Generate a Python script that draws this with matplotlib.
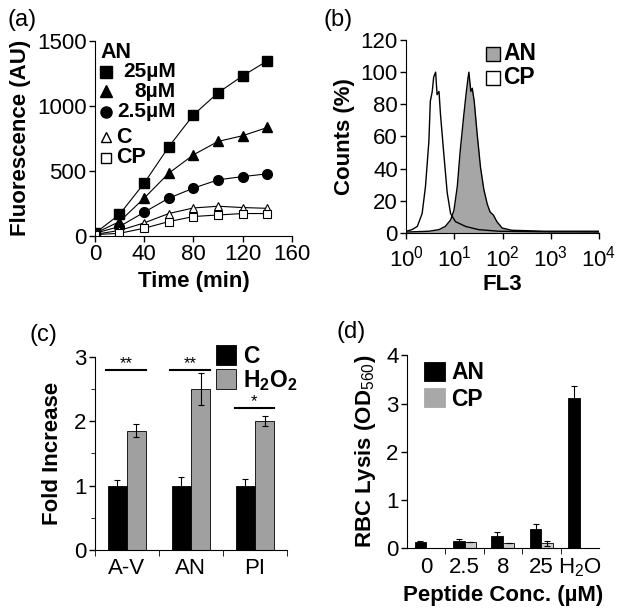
import numpy as np
import matplotlib.pyplot as plt

plt.rcParams['font.family'] = ['Liberation Sans', 'DejaVu Sans']
plt.rcParams['font.size'] = 16
plt.rcParams['mathtext.fontset'] = 'custom'
plt.rcParams['mathtext.rm'] = 'Liberation Sans'
plt.rcParams['mathtext.bf'] = 'Liberation Sans:bold'

# (a) fluorescence vs time
time_min = [0, 20, 40, 60, 80, 100, 120, 140]
an_25 = [20, 165, 405, 685, 930, 1100, 1230, 1345]
an_8 = [20, 110, 290, 482, 623, 726, 770, 833]
an_2_5 = [20, 72, 182, 290, 367, 431, 456, 477]
ctrl_c = [12, 42, 100, 172, 215, 228, 218, 212]
ctrl_cp = [10, 20, 59, 110, 149, 161, 172, 172]

# (b) FL3 histograms (log10 of FL3, counts %)
cp_logx = [0.0, 0.12, 0.23, 0.33, 0.40, 0.47, 0.50, 0.54, 0.57, 0.61, 0.64, 0.68,
           0.71, 0.78, 0.85, 0.92, 1.02, 1.23, 1.50, 1.92, 2.5, 3.0, 3.5, 4.0]
cp_counts = [1, 2, 4, 12, 29, 57, 82, 88, 97, 100, 86, 88,
             74, 49, 25, 12, 7, 4, 2, 1, 0.8, 0.6, 0.6, 0.5]
an_logx = [0.0, 0.47, 0.68, 0.81, 0.92, 0.99, 1.06, 1.12, 1.19, 1.24, 1.28, 1.30,
           1.34, 1.37, 1.41, 1.47, 1.54, 1.61, 1.68, 1.74, 1.81, 1.88, 1.99, 2.19,
           2.88, 3.5, 4.0]
an_counts = [0.5, 1, 2, 4, 8, 14, 29, 51, 72, 86, 96, 100,
             88, 90, 82, 62, 41, 27, 18, 13, 11, 7, 3, 1.6,
             1, 1, 1]

# (c) fold increase
c_groups = ['A-V', 'AN', 'PI']
c_ctrl = [1.0, 1.0, 1.0]
c_ctrl_err = [0.08, 0.13, 0.10]
c_h2o2 = [1.85, 2.5, 2.0]
c_h2o2_err = [0.10, 0.25, 0.08]
c_sig = ['**', '**', '*']
c_sig_y = [2.80, 2.80, 2.21]

# (d) RBC lysis
d_groups = ['0', '2.5', '8', '25', 'H$_2$O']
d_an = [0.12, 0.16, 0.25, 0.39, 3.12]
d_an_err = [0.03, 0.03, 0.08, 0.11, 0.24]
d_cp = [0, 0.13, 0.11, 0.10, 0]
d_cp_err = [0, 0, 0, 0.045, 0]

fig = plt.figure(figsize=(6.24, 6.16), dpi=100)
ax_a = fig.add_axes([0.152, 0.617, 0.316, 0.317])
ax_b = fig.add_axes([0.651, 0.622, 0.309, 0.313])
ax_c = fig.add_axes([0.152, 0.107, 0.308, 0.314])
ax_d = fig.add_axes([0.652, 0.110, 0.308, 0.313])

for ax in (ax_a, ax_b, ax_c, ax_d):
    ax.spines['top'].set_visible(False)
    ax.spines['right'].set_visible(False)
    ax.tick_params(direction='out', length=4, width=1, labelsize=16, pad=2)

# ---- panel (a)
ax_a.plot(time_min, an_25, color='k', lw=0.8, marker='s', ms=6.5, mfc='k')
ax_a.plot(time_min, an_8, color='k', lw=0.8, marker='^', ms=7, mfc='k')
ax_a.plot(time_min, an_2_5, color='k', lw=0.8, marker='o', ms=7, mfc='k')
ax_a.plot(time_min, ctrl_c, color='k', lw=0.8, marker='^', ms=5.5, mfc='white', mew=0.8)
ax_a.plot(time_min, ctrl_cp, color='k', lw=0.8, marker='s', ms=5.5, mfc='white', mew=0.8)
ax_a.set_xlim(0, 160)
ax_a.set_ylim(0, 1500)
ax_a.set_xticks([0, 40, 80, 120, 160])
ax_a.set_yticks([0, 500, 1000, 1500])
ax_a.set_xlabel('Time (min)', fontweight='bold', fontsize=16)
ax_a.set_ylabel('Fluorescence (AU)', fontweight='bold', fontsize=16, labelpad=4)

# key for (a)
ta = ax_a.transAxes
ax_a.text(0.03, 0.94, 'AN', transform=ta, fontweight='bold', fontsize=15.5, va='center')
key_rows = [(0.84, 's', '25µM'), (0.74, '^', '8µM'), (0.635, 'o', '2.5µM')]
for yy, mk, lab in key_rows:
    ax_a.plot([0.055], [yy], transform=ta, marker=mk, ms=8, mfc='k', mec='k', clip_on=False)
    ax_a.text(0.41, yy, lab, transform=ta, fontweight='bold', fontsize=15, va='center', ha='right')
for yy, mk, lab in [(0.505, '^', 'C'), (0.40, 's', 'CP')]:
    ax_a.plot([0.055], [yy], transform=ta, marker=mk, ms=6.5, mfc='white', mec='k', mew=1, clip_on=False)
    ax_a.text(0.11, yy, lab, transform=ta, fontweight='bold', fontsize=15.5, va='center')

# ---- panel (b)
an_x = np.power(10.0, an_logx)
cp_x = np.power(10.0, cp_logx)
ax_b.fill_between(an_x, an_counts, 0, color='#a6a6a6', lw=0)
ax_b.plot(an_x, an_counts, color='k', lw=1)
ax_b.plot(cp_x, cp_counts, color='k', lw=1)
ax_b.set_xscale('log')
ax_b.set_xlim(1, 1e4)
ax_b.set_ylim(0, 120)
ax_b.set_yticks(range(0, 121, 20))
ax_b.set_xticks([1, 10, 100, 1000, 10000])
ax_b.set_xticklabels(['10$^0$', '10$^1$', '10$^2$', '10$^3$', '10$^4$'])
ax_b.minorticks_off()
ax_b.tick_params(axis='x', pad=5)
ax_b.set_xlabel('FL3', fontweight='bold', fontsize=16, labelpad=2)
ax_b.set_ylabel('Counts (%)', fontweight='bold', fontsize=16, labelpad=4)
tb = ax_b.transAxes
ax_b.plot([0.45], [0.93], transform=tb, marker='s', ms=10, mfc='#a6a6a6', mec='k', clip_on=False)
ax_b.text(0.505, 0.93, 'AN', transform=tb, fontweight='bold', fontsize=16.5, va='center')
ax_b.plot([0.45], [0.805], transform=tb, marker='s', ms=10, mfc='white', mec='k', clip_on=False)
ax_b.text(0.505, 0.805, 'CP', transform=tb, fontweight='bold', fontsize=16.5, va='center')

# ---- panel (c)
xc = np.arange(len(c_groups))
w = 0.3
ax_c.bar(xc - w / 2, c_ctrl, w, color='black', edgecolor='black', lw=0.6,
         yerr=c_ctrl_err, error_kw=dict(lw=0.8, capsize=2, capthick=0.8), label='C')
ax_c.bar(xc + w / 2, c_h2o2, w, color='#a0a0a0', edgecolor='black', lw=0.6,
         yerr=c_h2o2_err, error_kw=dict(lw=0.8, capsize=2, capthick=0.8),
         label='H$_\\mathbf{2}$O$_\\mathbf{2}$')
for xi, s, sy in zip(xc, c_sig, c_sig_y):
    ax_c.plot([xi - 0.32, xi + 0.3], [sy, sy], color='k', lw=1.5)
    ax_c.text(xi - 0.01, sy - 0.02, s, ha='center', va='bottom', fontsize=12)
ax_c.set_xlim(-0.5, 2.5)
ax_c.set_ylim(0, 3)
ax_c.set_yticks([0, 1, 2, 3])
ax_c.set_yticks([0.5, 1.5, 2.5], minor=True)
ax_c.tick_params(axis='y', which='minor', length=3, direction='out')
ax_c.set_xticks(xc)
ax_c.set_xticklabels(c_groups, fontsize=16)
ax_c.tick_params(axis='x', which='major', length=0, pad=6)
ax_c.set_xticks([-0.5, 0.5, 1.5, 2.5], minor=True)
ax_c.tick_params(axis='x', which='minor', length=4, direction='out')
ax_c.set_ylabel('Fold Increase', fontweight='bold', fontsize=16, labelpad=8)
ax_c.legend(loc='upper left', bbox_to_anchor=(0.57, 1.12), frameon=False,
            prop=dict(weight='bold', size=16.5), handlelength=0.9, handleheight=0.9,
            handletextpad=0.3, labelspacing=0.0, borderpad=0)

# ---- panel (d)
xd = np.arange(len(d_groups))
err_kw = dict(lw=0.8, capsize=2, capthick=0.8)
ax_d.bar(xd - w / 2, d_an, w, color='black', edgecolor='black', lw=0.6,
         yerr=d_an_err, error_kw=err_kw, label='AN')
cp_h = [v if v > 0 else np.nan for v in d_cp]
ax_d.bar(xd + w / 2, cp_h, w, color='#cccccc', edgecolor='black', lw=0.6,
         yerr=d_cp_err, error_kw=err_kw, label='CP')
ax_d.set_xlim(-0.5, 4.5)
ax_d.set_ylim(0, 4)
ax_d.set_yticks([0, 1, 2, 3, 4])
ax_d.set_xticks(xd)
ax_d.set_xticklabels(d_groups, fontsize=16)
ax_d.tick_params(axis='x', which='major', length=0, pad=6)
ax_d.set_xticks([0.5, 1.5, 2.5, 3.5], minor=True)
ax_d.tick_params(axis='x', which='minor', length=4, direction='out')
ax_d.set_xlabel('Peptide Conc. (µM)', fontweight='bold', fontsize=16)
ax_d.set_ylabel('RBC Lysis (OD$_{560}$)', fontweight='bold', fontsize=16, labelpad=6)
leg = ax_d.legend(loc='upper left', bbox_to_anchor=(0.03, 1.03), frameon=False,
                  prop=dict(weight='bold', size=16.5), handlelength=0.9, handleheight=0.9,
                  handletextpad=0.3, labelspacing=0.15, borderpad=0)
leg.legend_handles[1].set_facecolor('#a8a8a8')
leg.legend_handles[1].set_edgecolor('#a8a8a8')

# panel letters
fig.text(0.012, 0.967, '(a)', fontsize=17, va='center')
fig.text(0.519, 0.967, '(b)', fontsize=17, va='center')
fig.text(0.048, 0.456, '(c)', fontsize=17, va='center')
fig.text(0.540, 0.461, '(d)', fontsize=17, va='center')

plt.savefig('out.png', dpi=100)
